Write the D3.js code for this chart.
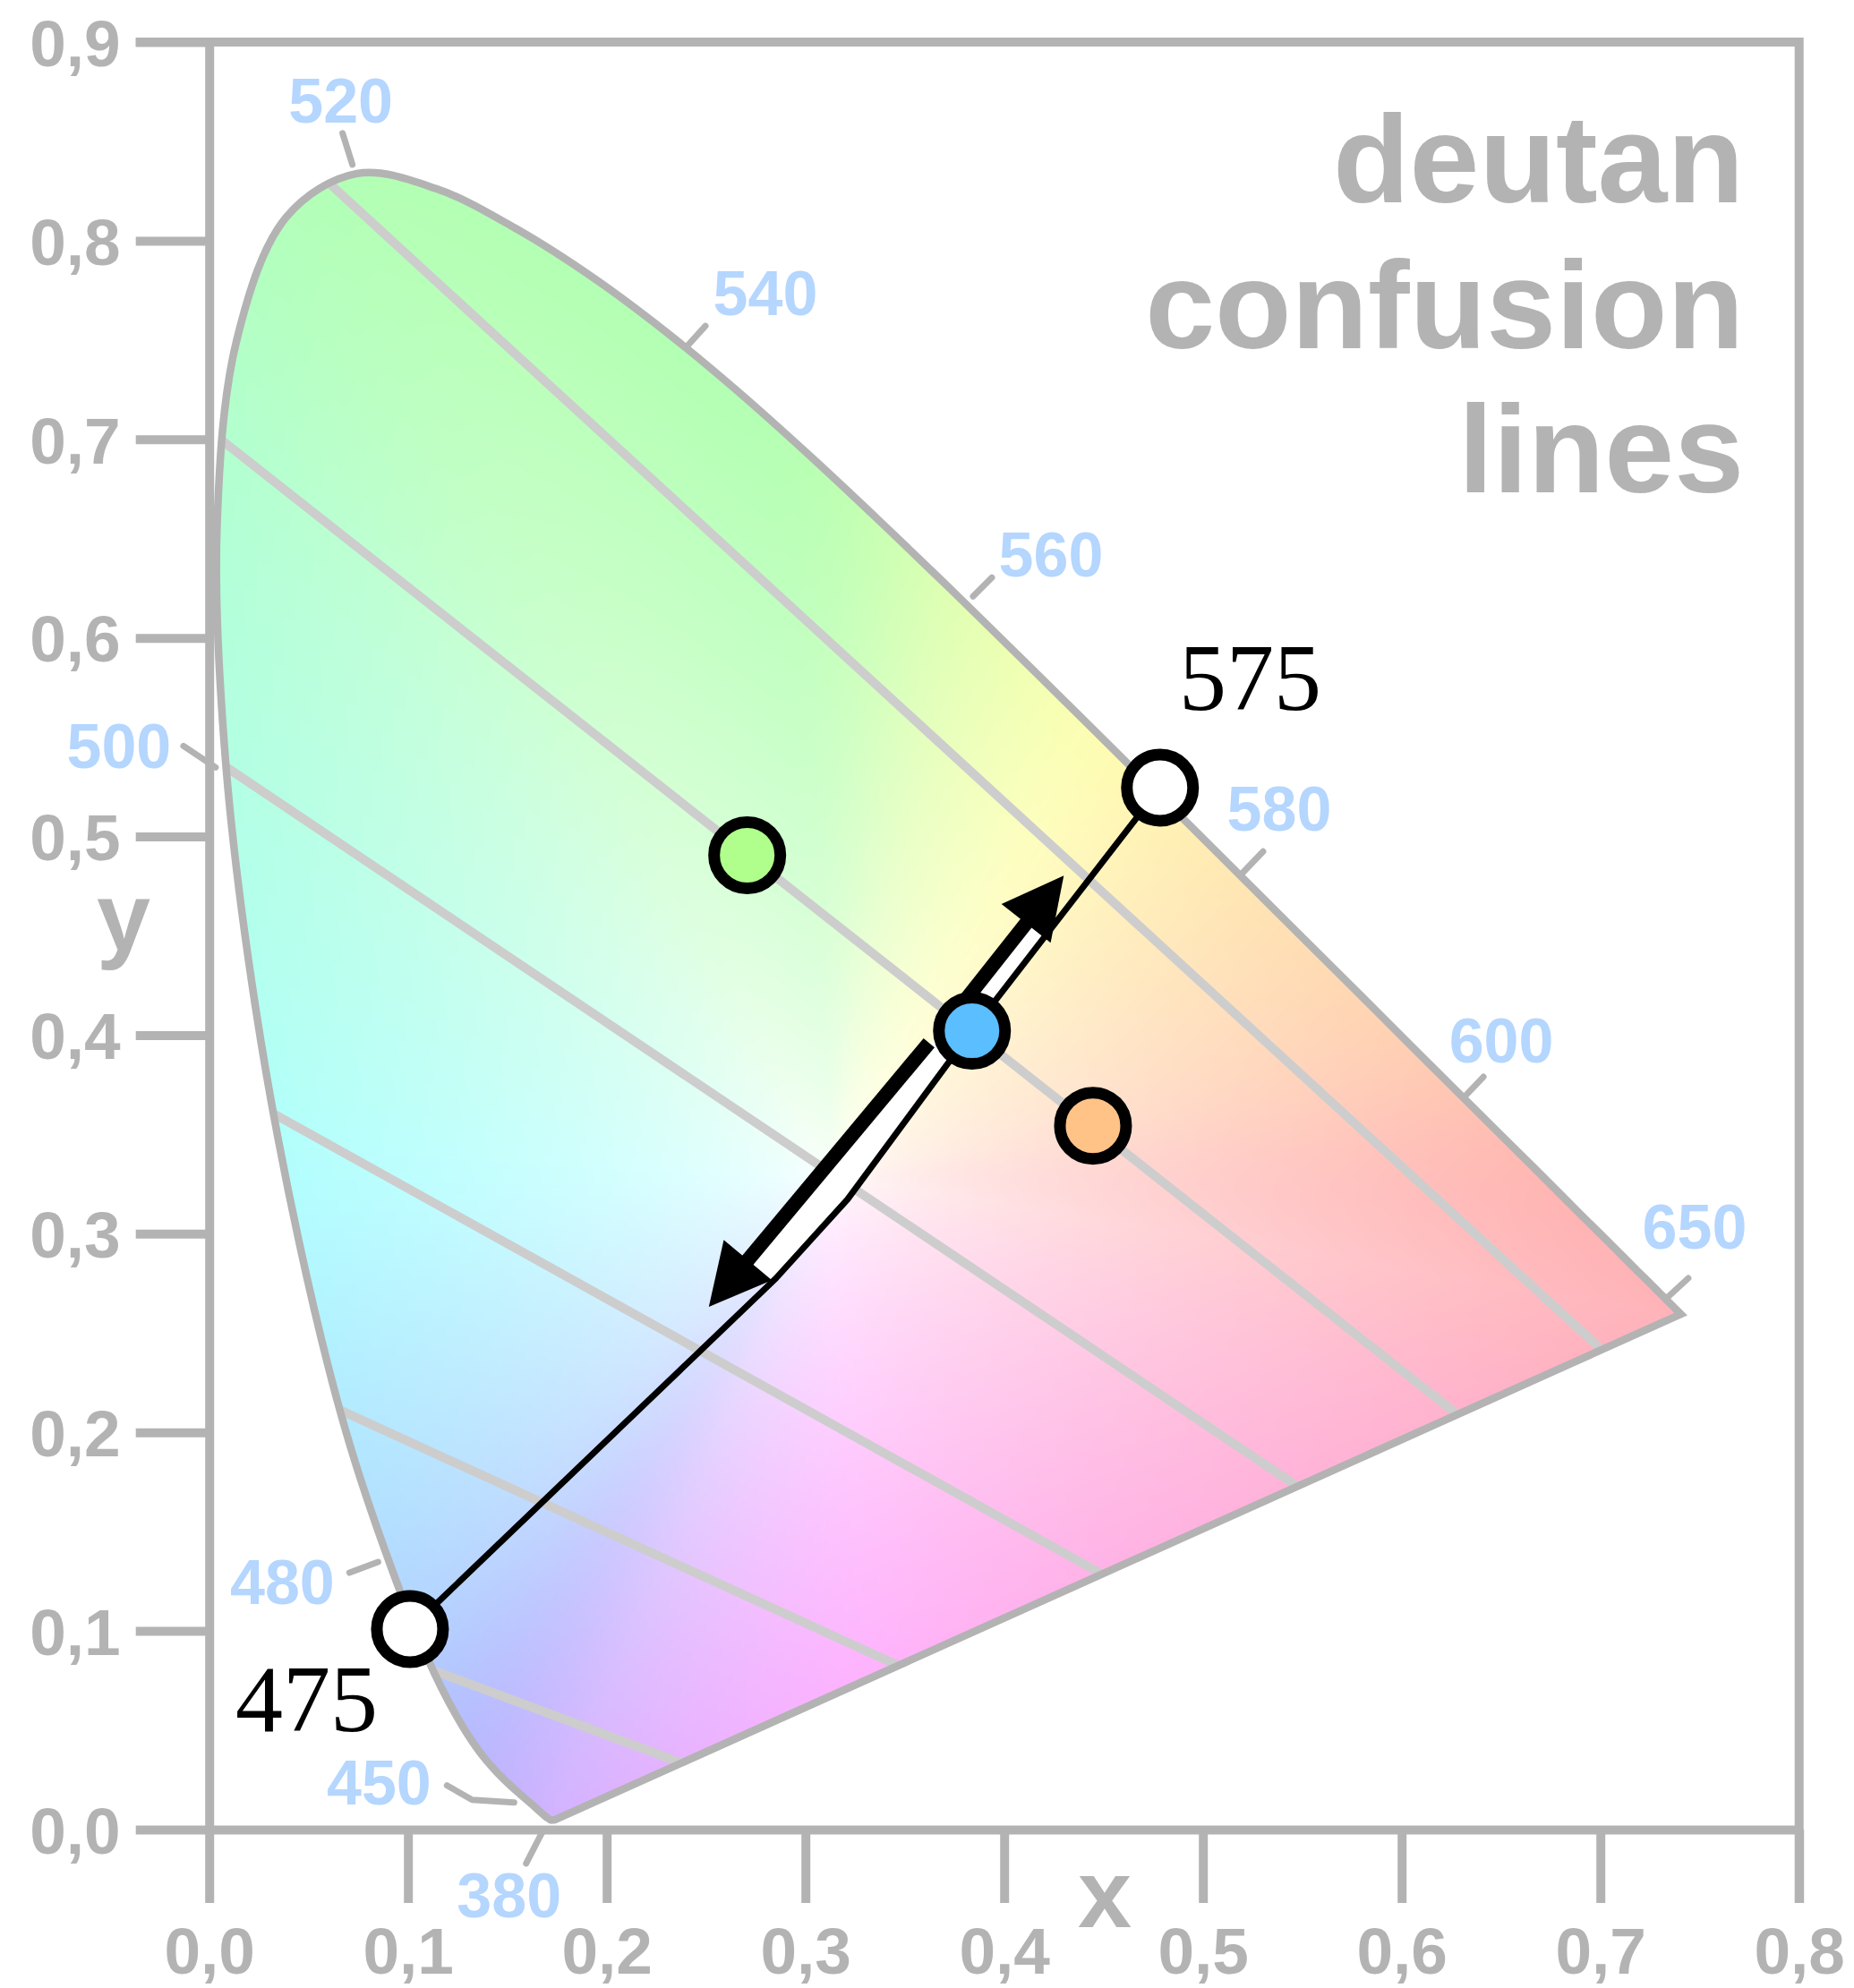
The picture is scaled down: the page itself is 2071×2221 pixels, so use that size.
<!DOCTYPE html>
<html><head><meta charset="utf-8">
<script src="https://cdn.jsdelivr.net/npm/d3@7"></script>
<style>
html,body{margin:0;padding:0;background:#fff;}
svg{display:block;}
</style></head><body>
<svg id="chart" width="2071" height="2221"></svg>
<script>
// ---------------- DATA ----------------
const wavelengths = [380,385,390,395,400,405,410,415,420,425,430,435,440,445,450,455,460,465,470,475,480,485,490,495,500,505,510,515,520,525,530,535,540,545,550,555,560,565,570,575,580,585,590,595,600,605,610,615,620,625,630,635,640,645,650,655,660,665,670,675,680,685,690,695,700];
const locusX = [0.1741,0.1740,0.1738,0.1736,0.1733,0.1730,0.1726,0.1721,0.1714,0.1703,0.1689,0.1669,0.1644,0.1611,0.1566,0.1510,0.1440,0.1355,0.1241,0.1096,0.0913,0.0687,0.0454,0.0235,0.0082,0.0039,0.0139,0.0389,0.0743,0.1142,0.1547,0.1929,0.2296,0.2658,0.3016,0.3373,0.3731,0.4087,0.4441,0.4788,0.5125,0.5448,0.5752,0.6029,0.6270,0.6482,0.6658,0.6801,0.6915,0.7006,0.7079,0.7140,0.7190,0.7230,0.7260,0.7283,0.7300,0.7311,0.7320,0.7327,0.7334,0.7345,0.7360,0.7380,0.7405];
const locusY = [0.0050,0.0050,0.0049,0.0049,0.0048,0.0048,0.0048,0.0048,0.0051,0.0058,0.0069,0.0086,0.0109,0.0138,0.0177,0.0227,0.0297,0.0399,0.0578,0.0868,0.1327,0.2007,0.2950,0.4127,0.5384,0.6548,0.7502,0.8120,0.8338,0.8262,0.8059,0.7816,0.7543,0.7243,0.6923,0.6589,0.6245,0.5896,0.5547,0.5202,0.4866,0.4544,0.4242,0.3965,0.3725,0.3514,0.3340,0.3197,0.3083,0.2993,0.2920,0.2859,0.2809,0.2770,0.2740,0.2717,0.2700,0.2689,0.2680,0.2673,0.2666,0.2655,0.2640,0.2620,0.2595];
const whitePoint = [0.3127, 0.3290];

const xTicks = [0,0.1,0.2,0.3,0.4,0.5,0.6,0.7,0.8];
const yTicks = [0,0.1,0.2,0.3,0.4,0.5,0.6,0.7,0.8,0.9];
const wlLabels = [380,450,480,500,520,540,560,580,600,650];

// deutan confusion lines: copunctal point and the point where each line meets the left of the locus
const copunctal = [1.40, -0.40];
const confStartX = [0.0594, 0.0032, 0.0064, 0.0306, 0.0670, 0.1085];
const confStartY = [0.8298, 0.7020, 0.5364, 0.3614, 0.2107, 0.0817];

// coloured samples
const spotX = [0.2707, 0.3838, 0.4447];
const spotY = [0.4906, 0.4022, 0.3544];
const spotColor = ['#b0ff8c', '#5abeff', '#ffc387'];

// end points of the path
const endLabels = ['475', '575'];
const endX = [0.1010, 0.4784];
const endY = [0.1010, 0.5246];

// black path 575 -> 475
const pathX = [0.4784, 0.3838, 0.3212, 0.2851, 0.1010];
const pathY = [0.5246, 0.4022, 0.3173, 0.2775, 0.1010];

// arrows (start, tip)
const arrowStartX = [0.3743, 0.3622];
const arrowStartY = [0.4098, 0.3961];
const arrowTipX = [0.4300, 0.2514];
const arrowTipY = [0.4803, 0.2632];

const titleLines = ['deutan', 'confusion', 'lines'];

// ---------------- LAYOUT / STYLE ----------------
const GRAY = '#b3b3b3', LINEGRAY = '#cdcdcd', BLUETXT = '#b4d6ff';
const SANS = '"Liberation Sans", Arial, Helvetica, sans-serif';
const SERIF = '"Liberation Serif", "Times New Roman", serif';
const wlLayout = {
  380: {start:[-14.5,14], tick:[[-18,35]], label:[-19,35]},
  450: {start:[-7,9], tick:[[-47,-3],[-28,-16]], label:[-76,-4]},
  480: {start:[-14,-4.5], tick:[[-32,12]], label:[-75,10]},
  500: {start:[-11,8], tick:[[-36,-24]], label:[-72,-1]},
  520: {start:[-5,-10], tick:[[-11,-35]], label:[-2,-37]},
  540: {start:[25.6,14.8], tick:[[19,-21]], label:[67,-37]},
  560: {start:[25,8], tick:[[21,-21]], label:[66,-27]},
  580: {start:[16.5,11], tick:[[23,-24]], label:[18,-48]},
  600: {start:[10.4,7.6], tick:[[21,-22]], label:[20,-41]},
  650: {start:[15.5,15], tick:[[25,-23]], label:[7,-58]}
};

const svg = d3.select('#chart');
const xScale = d3.scaleLinear().domain([0, 0.8]).range([233.7, 2009.7]);
const yScale = d3.scaleLinear().domain([0, 0.9]).range([2044, 47]);
const fmt = d3.formatLocale({decimal: ',', thousands: '.', grouping: [3], currency: ['', '']}).format('.1f');

// ---------------- AXES / FRAME ----------------
const TICK = 82;
svg.append('path')
  .attr('d', `M${xScale(0)-TICK},${yScale(0.9)}H${xScale(0.8)}V${yScale(0)+TICK}`)
  .attr('fill', 'none').attr('stroke', GRAY).attr('stroke-width', 10).attr('stroke-linejoin', 'miter');

const gy = svg.append('g').attr('transform', `translate(${xScale(0)},0)`)
  .call(d3.axisLeft(yScale).tickValues(yTicks).tickSize(TICK).tickSizeOuter(0).tickPadding(17).tickFormat(fmt));
const gx = svg.append('g').attr('transform', `translate(0,${yScale(0)})`)
  .call(d3.axisBottom(xScale).tickValues(xTicks).tickSize(TICK).tickSizeOuter(0).tickPadding(27).tickFormat(fmt));
[gx, gy].forEach(g => {
  g.select('.domain').attr('stroke', GRAY).attr('stroke-width', 10);
  g.selectAll('.tick line').attr('stroke', GRAY).attr('stroke-width', 10);
  g.selectAll('.tick text').attr('fill', GRAY).attr('font-family', SANS).attr('font-weight', 'bold').attr('font-size', 73);
});
gy.selectAll('.tick text').attr('dy', '0.36em');

svg.append('text').attr('x', 1234).attr('y', 2153).attr('text-anchor', 'middle')
  .attr('font-family', SANS).attr('font-weight', 'bold').attr('font-size', 108).attr('fill', GRAY).text('x');
svg.append('text').attr('x', 138).attr('y', 1062).attr('text-anchor', 'middle')
  .attr('font-family', SANS).attr('font-weight', 'bold').attr('font-size', 108).attr('fill', GRAY).text('y');

// ---------------- GAMUT FILL ----------------
const locusPts = wavelengths.map((w, i) => [xScale(locusX[i]), yScale(locusY[i])]);
const locusPath = d3.line().curve(d3.curveCatmullRom.alpha(0.5))(locusPts) + 'Z';
svg.append('defs').append('clipPath').attr('id', 'locusClip').append('path').attr('d', locusPath);

function gammaEnc(c) { return c <= 0.0031308 ? 12.92 * c : 1.055 * Math.pow(c, 1 / 2.4) - 0.055; }
function boundaryColor(x, y) {
  const X = x / y, Z = (1 - x - y) / y;
  let r = Math.max(0, 3.2406 * X - 1.5372 - 0.4986 * Z);
  let g = Math.max(0, -0.9689 * X + 1.8758 + 0.0415 * Z);
  let b = Math.max(0, 0.0557 * X - 0.2040 + 1.0570 * Z);
  const M = Math.max(r, g, b) || 1;
  return [gammaEnc(r / M), gammaEnc(g / M), gammaEnc(b / M)];
}
(function renderGamut() {
  const NA = 3600;
  const lutD = new Float32Array(NA);
  let lutC = new Float32Array(NA * 3);
  const poly = locusX.map((x, i) => [x, locusY[i]]);
  const [wx, wy] = whitePoint;
  for (let a = 0; a < NA; a++) {
    const th = (a + 0.5) / NA * 2 * Math.PI - Math.PI;
    const dx = Math.cos(th), dy = Math.sin(th);
    let best = Infinity;
    for (let k = 0; k < poly.length; k++) {
      const P = poly[k], Q = poly[(k + 1) % poly.length];
      const ex = Q[0] - P[0], ey = Q[1] - P[1];
      const den = dx * ey - dy * ex;
      if (Math.abs(den) < 1e-12) continue;
      const px = P[0] - wx, py = P[1] - wy;
      const t = (px * ey - py * ex) / den;
      const s = (px * dy - py * dx) / den;
      if (s >= 0 && s <= 1 && t > 0 && t < best) best = t;
    }
    lutD[a] = best;
    const c = boundaryColor(wx + best * dx, Math.max(0.003, wy + best * dy));
    lutC[a * 3] = c[0]; lutC[a * 3 + 1] = c[1]; lutC[a * 3 + 2] = c[2];
  }
  // smooth the boundary colours around the circle (3 box passes)
  const HW = 45;
  for (let pass = 0; pass < 3; pass++) {
    const out = new Float32Array(NA * 3);
    for (let a = 0; a < NA; a++) {
      let s0 = 0, s1 = 0, s2 = 0;
      for (let o = -HW; o <= HW; o++) {
        const b = ((a + o) % NA + NA) % NA;
        s0 += lutC[b * 3]; s1 += lutC[b * 3 + 1]; s2 += lutC[b * 3 + 2];
      }
      const n = 2 * HW + 1;
      out[a * 3] = s0 / n; out[a * 3 + 1] = s1 / n; out[a * 3 + 2] = s2 / n;
    }
    lutC = out;
  }
  const px0 = Math.floor(xScale(0)), px1 = Math.ceil(xScale(0.76));
  const py0 = Math.floor(yScale(0.85)), py1 = Math.ceil(yScale(0));
  const cw = px1 - px0, ch = py1 - py0;
  const canvas = document.createElement('canvas');
  canvas.width = cw; canvas.height = ch;
  const ctx = canvas.getContext('2d');
  const img = ctx.createImageData(cw, ch);
  const d = img.data;
  for (let j = 0; j < ch; j++) {
    const cy = yScale.invert(py0 + j + 0.5);
    for (let i = 0; i < cw; i++) {
      const cx = xScale.invert(px0 + i + 0.5);
      const dx = cx - wx, dy = cy - wy;
      const af = (Math.atan2(dy, dx) + Math.PI) / (2 * Math.PI) * NA - 0.5;
      let a0 = Math.floor(af); const fr = af - a0;
      const a1 = ((a0 + 1) % NA + NA) % NA; a0 = ((a0 % NA) + NA) % NA;
      const bd = lutD[a0] * (1 - fr) + lutD[a1] * fr;
      const t = Math.min(1, Math.hypot(dx, dy) / bd);
      const g = Math.pow(t, 0.6);
      const k = (j * cw + i) * 4;
      for (let c = 0; c < 3; c++) {
        const cb = lutC[a0 * 3 + c] * (1 - fr) + lutC[a1 * 3 + c] * fr;
        const v = 1 - g * (1 - cb);
        d[k + c] = 255 * (0.7 + 0.3 * v);
      }
      d[k + 3] = 255;
    }
  }
  ctx.putImageData(img, 0, 0);
  svg.append('image').attr('x', px0).attr('y', py0).attr('width', cw).attr('height', ch)
    .attr('preserveAspectRatio', 'none')
    .attr('href', canvas.toDataURL()).attr('clip-path', 'url(#locusClip)');
})();

// ---------------- CONFUSION LINES ----------------
const confG = svg.append('g').attr('clip-path', 'url(#locusClip)');
confStartX.forEach((sx, i) => {
  const sy = confStartY[i];
  const dx = copunctal[0] - sx, dy = copunctal[1] - sy;
  const a = [sx - 0.05 * dx, sy - 0.05 * dy];
  confG.append('line')
    .attr('x1', xScale(a[0])).attr('y1', yScale(a[1]))
    .attr('x2', xScale(copunctal[0])).attr('y2', yScale(copunctal[1]))
    .attr('stroke', LINEGRAY).attr('stroke-width', 10);
});

// locus outline
svg.append('path').attr('d', locusPath).attr('fill', 'none')
  .attr('stroke', GRAY).attr('stroke-width', 8.5).attr('stroke-linejoin', 'miter');

// ---------------- WAVELENGTH TICKS & LABELS ----------------
wlLabels.forEach(w => {
  const i = wavelengths.indexOf(w);
  const L = wlLayout[w];
  let p = [xScale(locusX[i]) + L.start[0], yScale(locusY[i]) + L.start[1]];
  const pts = [p.slice()];
  L.tick.forEach(v => { p = [p[0] + v[0], p[1] + v[1]]; pts.push(p.slice()); });
  svg.append('path').attr('d', d3.line()(pts)).attr('fill', 'none')
    .attr('stroke', GRAY).attr('stroke-width', 7).attr('stroke-linecap', 'round').attr('stroke-linejoin', 'round');
  svg.append('text').attr('x', p[0] + L.label[0]).attr('y', p[1] + L.label[1]).attr('dy', '0.36em')
    .attr('text-anchor', 'middle').attr('font-family', SANS).attr('font-weight', 'bold')
    .attr('font-size', 70).attr('fill', BLUETXT).text(w);
});

// ---------------- TITLE ----------------
svg.append('text').attr('text-anchor', 'end').attr('font-family', SANS).attr('font-weight', 'bold')
  .attr('font-size', 140).attr('fill', GRAY)
  .selectAll('tspan').data(titleLines).join('tspan')
  .attr('x', 1948).attr('y', (d, i) => [226, 389, 550][i]).text(d => d);

// ---------------- PATH, ARROWS ----------------
const pathPts = pathX.map((x, i) => [xScale(x), yScale(pathY[i])]);
function closestOnPolyline(p, pts) {
  let best = null, bd = Infinity;
  for (let k = 0; k < pts.length - 1; k++) {
    const a = pts[k], b = pts[k + 1];
    const dx = b[0] - a[0], dy = b[1] - a[1];
    let t = ((p[0] - a[0]) * dx + (p[1] - a[1]) * dy) / (dx * dx + dy * dy);
    t = Math.max(0, Math.min(1, t));
    const q = [a[0] + t * dx, a[1] + t * dy];
    const dd = Math.hypot(q[0] - p[0], q[1] - p[1]);
    if (dd < bd) { bd = dd; best = q; }
  }
  return best;
}
const HEAD_LEN = 68, HEAD_HW = 35, SHAFT_W = 16;
const arrowG = svg.append('g');
const bandG = arrowG.append('g');
const shaftG = arrowG.append('g');
arrowStartX.forEach((ax, i) => {
  const sx = xScale(ax), sy = yScale(arrowStartY[i]);
  const tx = xScale(arrowTipX[i]), ty = yScale(arrowTipY[i]);
  const len = Math.hypot(tx - sx, ty - sy);
  const ux = (tx - sx) / len, uy = (ty - sy) / len;
  const bx = tx - ux * HEAD_LEN, by = ty - uy * HEAD_LEN;
  const nx = -uy, ny = ux;
  const shaftPts = d3.range(0, 31).map(k => [sx + (bx - sx) * k / 30, sy + (by - sy) * k / 30]);
  const near = shaftPts.map(p => closestOnPolyline(p, pathPts));
  const blue = [xScale(spotX[1]), yScale(spotY[1])];
  bandG.append('path').attr('d', d3.line()([blue, ...shaftPts, ...near.reverse()]) + 'Z')
    .attr('fill', '#fff').attr('stroke', 'none');
  shaftG.append('line').attr('x1', sx).attr('y1', sy)
    .attr('x2', bx + ux * 6).attr('y2', by + uy * 6)
    .attr('stroke', '#000').attr('stroke-width', SHAFT_W);
  shaftG.append('path')
    .attr('d', d3.line()([[tx, ty], [bx + nx * HEAD_HW, by + ny * HEAD_HW], [bx - nx * HEAD_HW, by - ny * HEAD_HW]]) + 'Z')
    .attr('fill', '#000');
});
arrowG.append('path').attr('d', d3.line()(pathPts)).attr('fill', 'none')
  .attr('stroke', '#000').attr('stroke-width', 7).attr('stroke-linejoin', 'round');

// dots
const R = 37, DOT_SW = 13;
arrowG.selectAll('circle.spot').data(spotX).join('circle').attr('class', 'spot')
  .attr('cx', d => xScale(d)).attr('cy', (d, i) => yScale(spotY[i])).attr('r', R)
  .attr('fill', (d, i) => spotColor[i]).attr('stroke', '#000').attr('stroke-width', DOT_SW);
arrowG.selectAll('circle.end').data(endX).join('circle').attr('class', 'end')
  .attr('cx', d => xScale(d)).attr('cy', (d, i) => yScale(endY[i])).attr('r', R)
  .attr('fill', '#fff').attr('stroke', '#000').attr('stroke-width', DOT_SW);

// end labels
svg.append('text').attr('x', 263).attr('y', 1934).attr('font-family', SERIF).attr('font-size', 106)
  .attr('fill', '#000').text(endLabels[0]);
svg.append('text').attr('x', 1317).attr('y', 793).attr('font-family', SERIF).attr('font-size', 106)
  .attr('fill', '#000').text(endLabels[1]);
</script></body></html>
